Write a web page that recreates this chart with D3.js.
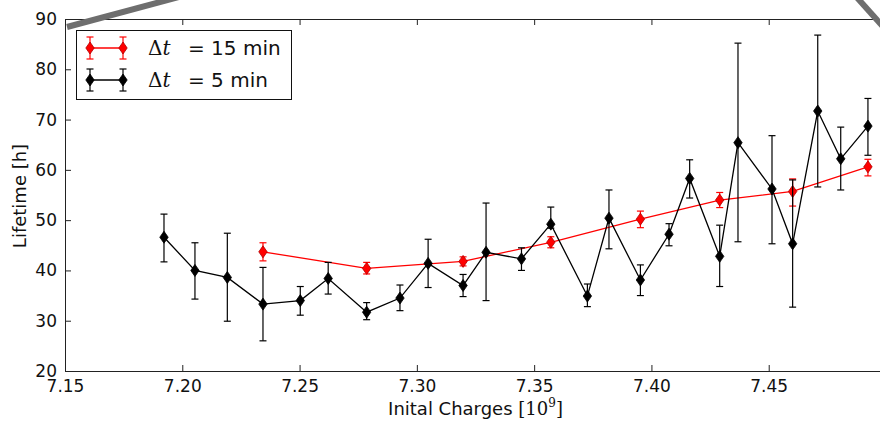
<!DOCTYPE html>
<html>
<head>
<meta charset="utf-8">
<script src="https://cdn.jsdelivr.net/npm/d3@7"></script>
<style>
  body { margin: 0; background: #fff; }
  svg { display: block; font-family: "DejaVu Sans", sans-serif; }
</style>
</head>
<body>
<div id="chart"></div>
<script>
// Δt = 15 min series
const redX = [7.2344, 7.2786, 7.3197, 7.3571, 7.3953, 7.4291, 7.4602, 7.4923];
const redY = [43.7, 40.4, 41.8, 45.6, 50.2, 54.0, 55.7, 60.6];
const redLo = [41.9, 39.3, 40.9, 44.5, 48.5, 52.5, 52.8, 58.8];
const redHi = [45.5, 41.6, 42.7, 46.7, 51.8, 55.5, 58.2, 62.1];

// Δt = 5 min series
const blackX = [7.1922, 7.2054, 7.2192, 7.2344, 7.2503, 7.2622, 7.2786, 7.2928, 7.3048, 7.3197,
    7.3295, 7.3446, 7.3571, 7.3727, 7.3819, 7.3953, 7.4075, 7.4163, 7.4291, 7.4369,
    7.4514, 7.4602, 7.4709, 7.4807, 7.4923];
const blackY = [46.6, 40.0, 38.6, 33.3, 34.0, 38.4, 31.7, 34.5, 41.4, 37.0,
    43.6, 42.3, 49.2, 34.9, 50.4, 38.1, 47.2, 58.3, 42.8, 65.4,
    56.2, 45.3, 71.7, 62.2, 68.7];
const blackLo = [41.7, 34.3, 29.9, 26.0, 31.1, 35.3, 30.2, 32.0, 36.6, 34.8,
    34.0, 40.0, 48.4, 32.8, 44.3, 35.0, 44.9, 54.4, 36.8, 45.7,
    45.3, 32.7, 56.6, 56.0, 62.9];
const blackHi = [51.2, 45.5, 47.4, 40.6, 36.8, 41.6, 33.6, 37.1, 46.2, 39.2,
    53.4, 44.5, 52.6, 37.3, 56.0, 41.1, 49.3, 62.0, 49.0, 85.2,
    66.8, 58.0, 86.8, 68.5, 74.2];

const xTicks = [7.15, 7.20, 7.25, 7.30, 7.35, 7.40, 7.45];
const yTicks = [20, 30, 40, 50, 60, 70, 80, 90];

const W = 880, H = 422;
const margin = { top: 19, left: 65, bottom: 51 };
const plotRight = 886;

const svg = d3.select("#chart").append("svg")
    .attr("width", W)
    .attr("height", H);

const x = d3.scaleLinear().domain([7.15, 7.50]).range([margin.left, plotRight]);
const y = d3.scaleLinear().domain([20, 90]).range([H - margin.bottom, margin.top]);

const axisColor = "#222";

// axes (ticks inward, on all sides)
const bottomAxis = svg.append("g")
    .attr("transform", "translate(0," + y(20) + ")")
    .call(d3.axisBottom(x).tickValues(xTicks).tickFormat(d3.format(".2f")).tickSizeInner(-6).tickSizeOuter(0).tickPadding(8));
const topAxis = svg.append("g")
    .attr("transform", "translate(0," + y(90) + ")")
    .call(d3.axisTop(x).tickValues(xTicks).tickFormat("").tickSizeInner(-6).tickSizeOuter(0));
const leftAxis = svg.append("g")
    .attr("transform", "translate(" + x(7.15) + ",0)")
    .call(d3.axisLeft(y).tickValues(yTicks).tickFormat(d3.format("d")).tickSizeInner(-6).tickSizeOuter(0).tickPadding(8));

[bottomAxis, topAxis, leftAxis].forEach(g => {
    g.select(".domain").attr("stroke", axisColor);
    g.selectAll(".tick line").attr("stroke", axisColor);
    g.selectAll("text").attr("fill", "#111").style("font-size", "17px").style("font-family", "DejaVu Sans");
});
bottomAxis.selectAll("text").attr("dy", "0.75em");

// axis labels
svg.append("text")
    .attr("x", (margin.left + plotRight) / 2)
    .attr("y", 415)
    .attr("text-anchor", "middle")
    .style("font-size", "18px")
    .attr("fill", "#111")
    .html('Inital Charges <tspan font-family="DejaVu Serif">[10</tspan><tspan font-family="DejaVu Serif" font-size="12px" dy="-8">9</tspan><tspan font-family="DejaVu Serif" dy="8">]</tspan>');

svg.append("text")
    .attr("transform", "translate(26,196) rotate(-90)")
    .attr("text-anchor", "middle")
    .style("font-size", "18px")
    .attr("fill", "#111")
    .text("Lifetime [h]");

// diamond marker
function diamond(g, cx, cy, fill, stroke) {
    g.append("path")
        .attr("d", `M${cx},${cy - 6}L${cx + 4.2},${cy}L${cx},${cy + 6}L${cx - 4.2},${cy}Z`)
        .attr("fill", fill)
        .attr("stroke", stroke)
        .attr("stroke-width", 0.8);
}

function drawSeries(xs, ys, lo, hi, color, edge) {
    const g = svg.append("g");
    // error bars
    xs.forEach((d, i) => {
        const px = x(d);
        g.append("line").attr("x1", px).attr("x2", px).attr("y1", y(lo[i])).attr("y2", y(hi[i]))
            .attr("stroke", color).attr("stroke-width", 1.2);
        [lo[i], hi[i]].forEach(v => {
            g.append("line").attr("x1", px - 3.5).attr("x2", px + 3.5).attr("y1", y(v)).attr("y2", y(v))
                .attr("stroke", color).attr("stroke-width", 1.2);
        });
    });
    const line = d3.line().x(d => x(d[0])).y(d => y(d[1]));
    g.append("path")
        .datum(xs.map((d, i) => [d, ys[i]]))
        .attr("d", line)
        .attr("fill", "none")
        .attr("stroke", color)
        .attr("stroke-width", 1.3);
    xs.forEach((d, i) => diamond(g, x(d), y(ys[i]), color, edge));
}

drawSeries(redX, redY, redLo, redHi, "#ff0000", "#b00000");
drawSeries(blackX, blackY, blackLo, blackHi, "#000000", "#000000");

// legend
const lg = svg.append("g");
lg.append("rect")
    .attr("x", 76.5).attr("y", 30.5).attr("width", 215).attr("height", 69)
    .attr("fill", "#fff").attr("stroke", "#111").attr("stroke-width", 1);
const legendItems = [
    { color: "#ff0000", edge: "#b00000", label: "= 15 min", cy: 48 },
    { color: "#000000", edge: "#000000", label: "= 5 min", cy: 80 }
];
legendItems.forEach(it => {
    [90, 123].forEach(px => {
        lg.append("line").attr("x1", px).attr("x2", px).attr("y1", it.cy - 11).attr("y2", it.cy + 11)
            .attr("stroke", it.color).attr("stroke-width", 1.2);
        [it.cy - 11, it.cy + 11].forEach(v => {
            lg.append("line").attr("x1", px - 3.5).attr("x2", px + 3.5).attr("y1", v).attr("y2", v)
                .attr("stroke", it.color).attr("stroke-width", 1.2);
        });
    });
    lg.append("line").attr("x1", 90).attr("x2", 123).attr("y1", it.cy).attr("y2", it.cy)
        .attr("stroke", it.color).attr("stroke-width", 1.3);
    diamond(lg, 90, it.cy, it.color, it.edge);
    diamond(lg, 123, it.cy, it.color, it.edge);
    const t = lg.append("text")
        .attr("y", it.cy + 7)
        .style("font-size", "20px")
        .attr("fill", "#111");
    t.append("tspan").attr("x", 148).attr("font-family", "DejaVu Serif").text("Δ");
    t.append("tspan").attr("font-family", "DejaVu Serif").attr("font-style", "italic").text("t");
    t.append("tspan").attr("x", 188).text(it.label);
});

// thick grey frame strokes crossing the corners
svg.append("line").attr("x1", 67).attr("y1", 27).attr("x2", 190).attr("y2", -6)
    .attr("stroke", "#6e6e6e").attr("stroke-width", 6);
svg.append("line").attr("x1", 852).attr("y1", -8).attr("x2", 886).attr("y2", 30)
    .attr("stroke", "#6e6e6e").attr("stroke-width", 6);
</script>
</body>
</html>
